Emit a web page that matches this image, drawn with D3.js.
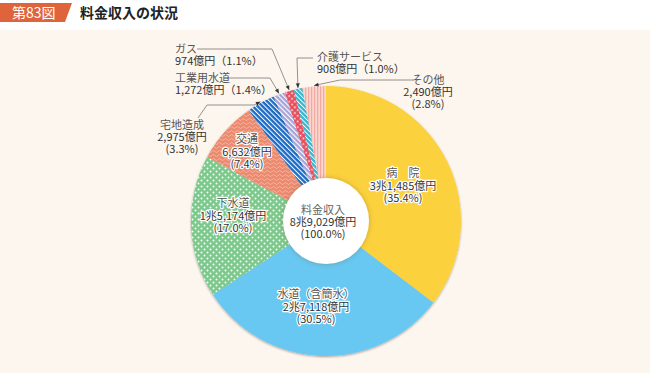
<!DOCTYPE html>
<html>
<head>
<meta charset="utf-8">
<script src="https://cdn.jsdelivr.net/npm/d3@7"></script>
<style>
  html, body { margin: 0; padding: 0; background: #fff; }
  svg { display: block; font-family: "Noto Sans CJK JP", "Noto Sans", sans-serif; }
</style>
</head>
<body>
<script>
// 料金収入の状況 (億円)
const names = ["病院", "水道（含簡水）", "下水道", "交通", "宅地造成", "工業用水道", "ガス", "介護サービス", "その他"];
const shownNames = ["病　院", "水道（含簡水）", "下水道", "交通", "宅地造成", "工業用水道", "ガス", "介護サービス", "その他"];
const values = [31485, 27118, 15174, 6632, 2975, 1272, 974, 908, 2490];
const shares = ["35.4", "30.5", "17.0", "7.4", "3.3", "1.4", "1.1", "1.0", "2.8"];
const totalValue = 89029;
const fills = ["#fbd13d", "#68c8f1", "url(#dots)", "url(#waves)", "url(#blueStripe)",
               "url(#lavStripe)", "url(#gasDots)", "url(#tealStripe)", "url(#pinkStripe)"];

const width = 650, height = 373;
const cx = 326, cy = 221, r = 135, r0 = 43;

const fmt = d3.format(",");
function yen(v) {
  if (v >= 10000) return Math.floor(v / 10000) + "兆" + fmt(v % 10000) + "億円";
  return fmt(v) + "億円";
}

const svg = d3.select("body").append("svg")
    .attr("width", width)
    .attr("height", height);

// background + header
svg.append("rect").attr("width", width).attr("height", height).attr("fill", "#fff");
svg.append("rect").attr("y", 30).attr("width", width).attr("height", height - 30).attr("fill", "#fdf6ef");
svg.append("path").attr("d", "M0,3H72L65,22H0Z").attr("fill", "#e0643b");
svg.append("text").attr("x", 12).attr("y", 18).attr("fill", "#fff")
    .attr("font-size", 14).text("第83図");
svg.append("text").attr("x", 80).attr("y", 18).attr("fill", "#222")
    .attr("font-size", 14).attr("font-weight", "bold").text("料金収入の状況");

// patterns
const defs = svg.append("defs");

const dots = defs.append("pattern").attr("id", "dots").attr("patternUnits", "userSpaceOnUse")
    .attr("width", 6).attr("height", 6);
dots.append("rect").attr("width", 6).attr("height", 6).attr("fill", "#7cc98c");
dots.append("circle").attr("cx", 1.5).attr("cy", 1.5).attr("r", 0.95).attr("fill", "#fff");
dots.append("circle").attr("cx", 4.5).attr("cy", 4.5).attr("r", 0.95).attr("fill", "#fff");

const waves = defs.append("pattern").attr("id", "waves").attr("patternUnits", "userSpaceOnUse")
    .attr("width", 6).attr("height", 4);
waves.append("rect").attr("width", 6).attr("height", 4).attr("fill", "#eb8a6f");
waves.append("path").attr("d", "M0,2.5Q1.5,0.5 3,2.5T6,2.5")
    .attr("fill", "none").attr("stroke", "#f6b9a3").attr("stroke-width", 0.9);

function stripe(id, base, line, size, lw, angle) {
  const p = defs.append("pattern").attr("id", id).attr("patternUnits", "userSpaceOnUse")
      .attr("width", size).attr("height", size)
      .attr("patternTransform", "rotate(" + angle + ")");
  p.append("rect").attr("width", size).attr("height", size).attr("fill", base);
  p.append("rect").attr("x", 0).attr("width", lw).attr("height", size).attr("fill", line);
}
stripe("blueStripe", "#1f6cc6", "#ffffff", 3.4, 1, -45);
stripe("lavStripe", "#a7a3d8", "#ffffff", 3.4, 1.1, -45);
stripe("tealStripe", "#35b5cf", "#ffffff", 3.2, 0.9, -45);
stripe("pinkStripe", "#fbd6cf", "#f2aaa0", 3, 1.2, 0);

const gas = defs.append("pattern").attr("id", "gasDots").attr("patternUnits", "userSpaceOnUse")
    .attr("width", 4).attr("height", 4).attr("patternTransform", "rotate(45)");
gas.append("rect").attr("width", 4).attr("height", 4).attr("fill", "#e84c5b");
gas.append("rect").attr("x", 0.8).attr("y", 0.8).attr("width", 1.6).attr("height", 1.6).attr("fill", "#fff");

const sh = defs.append("filter").attr("id", "shadow").attr("x", "-10%").attr("y", "-10%")
    .attr("width", "120%").attr("height", "120%");
sh.append("feDropShadow").attr("dx", 0).attr("dy", 1).attr("stdDeviation", 1)
    .attr("flood-color", "#000").attr("flood-opacity", 0.35);
const ish = defs.append("filter").attr("id", "innerShadow").attr("x", "-30%").attr("y", "-30%")
    .attr("width", "160%").attr("height", "160%");
ish.append("feDropShadow").attr("dx", 0).attr("dy", 0).attr("stdDeviation", 2.5)
    .attr("flood-color", "#6b4a00").attr("flood-opacity", 0.35);

// pie
const pie = d3.pie().sort(null).value(d => d);
const arcs = pie(values);
const arc = d3.arc().innerRadius(0).outerRadius(r);

const g = svg.append("g").attr("transform", `translate(${cx},${cy})`);
g.append("g").attr("filter", "url(#shadow)")
  .selectAll("path")
  .data(arcs)
  .enter().append("path")
  .attr("d", arc)
  .attr("fill", (d, i) => fills[i]);

g.append("circle").attr("r", r0).attr("fill", "#fff").attr("filter", "url(#innerShadow)");

// center label
const center = g.append("text").attr("text-anchor", "middle").attr("font-size", 11).attr("fill", "#333");
center.append("tspan").attr("x", -3).attr("y", -7).attr("fill", "#666").text("料金収入");
center.append("tspan").attr("x", -3).attr("y", 5).text(yen(totalValue));
center.append("tspan").attr("x", -3).attr("y", 17).text("(100.0%)");

// inside labels: [slice index, x, y of first line]
const inside = [[0, 403, 177], [1, 316, 298], [2, 233, 207], [3, 247, 143]];
inside.forEach(([i, x, y]) => {
  const t = svg.append("text").attr("text-anchor", "middle").attr("font-size", 11)
      .attr("fill", "#333").attr("stroke", "#fff").attr("stroke-width", 2.4)
      .attr("stroke-linejoin", "round").attr("paint-order", "stroke");
  t.append("tspan").attr("x", x).attr("y", y).attr("fill", "#555").text(shownNames[i]);
  t.append("tspan").attr("x", x).attr("y", y + 12.5).text(yen(values[i]));
  t.append("tspan").attr("x", x).attr("y", y + 25).text("(" + shares[i] + "%)");
});

// outside labels with leader lines
function tip(i) {
  const a = (arcs[i].startAngle + arcs[i].endAngle) / 2;
  return [cx + (r + 1) * Math.sin(a), cy - (r + 1) * Math.cos(a)];
}
const leaders = [
  {i: 4, pts: [[198, 118], [207, 105], [254, 105]]},
  {i: 5, pts: [[227, 78], [270, 78]]},
  {i: 6, pts: [[197, 49], [272, 49]]},
  {i: 7, pts: [[313, 58], [297, 58]]},
  {i: 8, pts: [[413, 80], [340, 80]]}
];
leaders.forEach(l => {
  const t = tip(l.i);
  const pts = l.pts.concat([t]);
  svg.append("path").attr("d", d3.line()(pts))
      .attr("fill", "none").attr("stroke", "#777").attr("stroke-width", 0.8);
  const p = pts[pts.length - 2];
  const ang = Math.atan2(t[1] - p[1], t[0] - p[0]) * 180 / Math.PI;
  svg.append("path").attr("d", "M0,0L-4.5,-2L-4.5,2Z")
      .attr("transform", `translate(${t[0]},${t[1]}) rotate(${ang})`)
      .attr("fill", "#333");
});

// 宅地造成 and その他: three centered lines
[[4, 182, 129], [8, 428, 84]].forEach(([i, x, y]) => {
  const t = svg.append("text").attr("text-anchor", "middle").attr("font-size", 11).attr("fill", "#333");
  t.append("tspan").attr("x", x).attr("y", y).attr("fill", "#555").text(shownNames[i]);
  t.append("tspan").attr("x", x).attr("y", y + 12).text(yen(values[i]));
  t.append("tspan").attr("x", x).attr("y", y + 24).text("(" + shares[i] + "%)");
});
// 工業用水道, ガス, 介護サービス: two left-aligned lines
[[5, 175, 82], [6, 175, 53], [7, 317, 61]].forEach(([i, x, y]) => {
  const t = svg.append("text").attr("font-size", 11).attr("fill", "#333");
  t.append("tspan").attr("x", x).attr("y", y).attr("fill", "#555").text(shownNames[i]);
  t.append("tspan").attr("x", x).attr("y", y + 12).text(yen(values[i]) + "（" + shares[i] + "%）");
});
</script>
</body>
</html>
